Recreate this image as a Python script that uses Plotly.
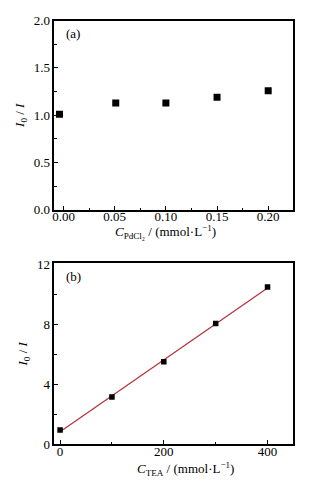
import numpy as np
import plotly.graph_objects as go

# Panel (a)
pd_conc = [-0.004, 0.051, 0.100, 0.150, 0.200]
pd_ratio = [1.01, 1.13, 1.13, 1.19, 1.26]

# Panel (b)
tea_conc = [0, 100, 200, 300, 400]
tea_ratio = [0.95, 3.14, 5.49, 8.05, 10.47]

a_xticks = [0.00, 0.05, 0.10, 0.15, 0.20]
a_yticks = [0.0, 0.5, 1.0, 1.5, 2.0]
b_xticks = [0, 200, 400]
b_yticks = [0, 4, 8, 12]

slope, intercept = np.polyfit(tea_conc, tea_ratio, 1)
fit_x = [min(tea_conc), max(tea_conc)]
fit_y = [slope * v + intercept for v in fit_x]

FONT = "Liberation Serif"
fig = go.Figure()
fig.add_trace(go.Scatter(x=pd_conc, y=pd_ratio, mode="markers",
                         marker=dict(symbol="square", size=7, color="black"),
                         xaxis="x", yaxis="y", showlegend=False))
fig.add_trace(go.Scatter(x=fit_x, y=fit_y, mode="lines",
                         line=dict(color="#b8323f", width=1.3),
                         xaxis="x2", yaxis="y2", showlegend=False))
fig.add_trace(go.Scatter(x=tea_conc, y=tea_ratio, mode="markers",
                         marker=dict(symbol="square", size=5.5, color="black"),
                         xaxis="x2", yaxis="y2", showlegend=False))

common = dict(showline=True, linecolor="black", linewidth=1.6, mirror=True,
              ticks="inside", ticklen=4, tickwidth=1, tickcolor="black",
              showgrid=False, zeroline=False,
              tickfont=dict(family=FONT, size=13, color="black"))

fig.update_layout(
    width=310, height=491,
    margin=dict(l=0, r=0, t=0, b=0),
    paper_bgcolor="white", plot_bgcolor="white",
    font=dict(family=FONT, size=13, color="black"),
    xaxis=dict(domain=[0.170, 0.944], anchor="y", range=[-0.009, 0.224],
               tickvals=a_xticks, ticktext=[f"{v:.2f}" for v in a_xticks],
               ticklabelstandoff=-6,
               minor=dict(ticks="inside", ticklen=2.5, tickcolor="black", dtick=0.025, tick0=0),
               **common),
    yaxis=dict(domain=[0.5737, 0.9715], anchor="x", range=[0, 2.0],
               tickvals=a_yticks, ticktext=[f"{v:.1f}" for v in a_yticks],
               ticklabelstandoff=0,
               minor=dict(ticks="inside", ticklen=2.5, tickcolor="black", dtick=0.25, tick0=0),
               title=dict(text="<i>I</i><sub>0</sub> / <i>I</i>",
                          font=dict(family=FONT, size=13), standoff=6),
               **common),
    xaxis2=dict(domain=[0.170, 0.944], anchor="y2", range=[-11, 448.6],
                tickvals=b_xticks, ticklabelstandoff=-6,
                minor=dict(ticks="inside", ticklen=2.5, tickcolor="black", dtick=100, tick0=0),
                **common),
    yaxis2=dict(domain=[0.0815, 0.4613], anchor="x2", range=[0, 12.05],
                tickvals=b_yticks, ticklabelstandoff=0,
                minor=dict(ticks="inside", ticklen=2.5, tickcolor="black", dtick=2, tick0=0),
                title=dict(text="<i>I</i><sub>0</sub> / <i>I</i>",
                           font=dict(family=FONT, size=13), standoff=6),
                **common),
    annotations=[
        dict(text="(a)", xref="x domain", yref="y domain", x=0.04, y=0.93,
             xanchor="left", yanchor="middle", showarrow=False,
             font=dict(family=FONT, size=13)),
        dict(text="(b)", xref="x2 domain", yref="y2 domain", x=0.04, y=0.93,
             xanchor="left", yanchor="middle", showarrow=False,
             font=dict(family=FONT, size=13)),
        dict(text="<i>C</i><sub>PdCl₂</sub> / (mmol·L<sup>−1</sup>)",
             xref="paper", yref="paper", x=165 / 310, y=1 - 232 / 491,
             xanchor="center", yanchor="middle", showarrow=False,
             font=dict(family=FONT, size=13)),
        dict(text="<i>C</i><sub>TEA</sub> / (mmol·L<sup>−1</sup>)",
             xref="paper", yref="paper", x=185 / 310, y=1 - 477 / 491,
             xanchor="center", yanchor="middle", showarrow=False,
             font=dict(family=FONT, size=13)),
    ],
)

fig.write_html("out.html", config={"displayModeBar": False},
               post_script="document.body.style.margin='0';document.body.style.overflow='hidden';")
